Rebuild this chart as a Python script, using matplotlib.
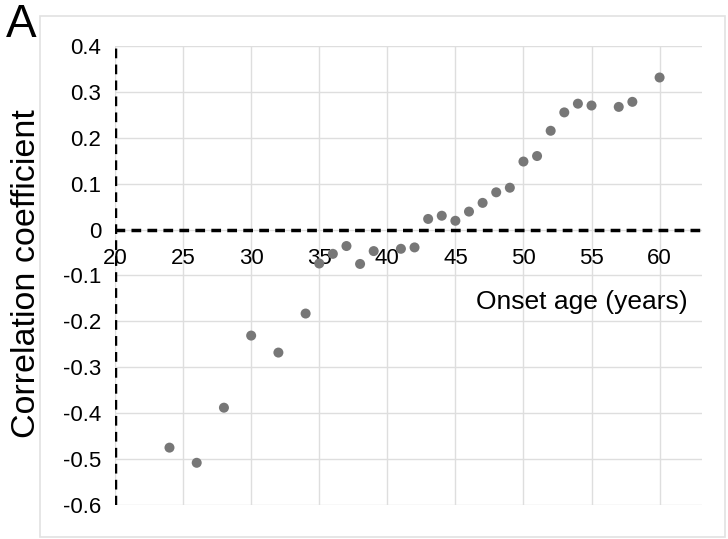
import matplotlib.pyplot as plt
from matplotlib.patches import Rectangle
from matplotlib.transforms import offset_copy

# onset age (years) and correlation coefficient
onset_age = [24, 26, 28, 30, 32, 34, 35, 36, 37, 38, 39, 41, 42,
             43, 44, 45, 46, 47, 48, 49, 50, 51, 52, 53, 54, 55, 57, 58, 60]
corr = [-0.475, -0.508, -0.388, -0.231, -0.268, -0.183, -0.074, -0.053, -0.036,
        -0.075, -0.047, -0.042, -0.039,
        0.023, 0.030, 0.019, 0.039, 0.058, 0.081, 0.091, 0.148, 0.160, 0.215,
        0.255, 0.274, 0.270, 0.267, 0.278, 0.331]

x_ticks = [20, 25, 30, 35, 40, 45, 50, 55, 60]
y_ticks = [0.4, 0.3, 0.2, 0.1, 0, -0.1, -0.2, -0.3, -0.4, -0.5, -0.6]
y_tick_labels = ['0.4', '0.3', '0.2', '0.1', '0', '-0.1', '-0.2', '-0.3', '-0.4', '-0.5', '-0.6']

plt.rcParams['font.family'] = ['Liberation Sans', 'DejaVu Sans']

fig = plt.figure(figsize=(7.28, 5.39), dpi=100)
ax = fig.add_axes([0.158, 0.063, 0.806, 0.852])

# light outer frame around the panel
fig.patches.append(Rectangle((0.055, 0.004), 0.941, 0.966, transform=fig.transFigure,
                             fill=False, edgecolor='#e2e2e2', linewidth=1.2))

ax.set_xlim(20, 63.1)
ax.set_ylim(-0.6, 0.4)
ax.set_xticks(x_ticks)
ax.set_yticks(y_ticks)
ax.set_yticklabels(y_tick_labels, fontsize=16)
ax.tick_params(axis='x', length=0, labelbottom=False)
ax.tick_params(axis='y', length=0, pad=10)
ax.grid(True, color='#dedede', linewidth=1)
ax.set_axisbelow(True)
for s in ax.spines.values():
    s.set_visible(False)

# dashed axes through the origin
ax.axhline(0, color='black', linestyle=(0, (2.8, 1.8)), linewidth=2.5, zorder=2)
ax.axvline(20, color='black', linestyle=(0, (2.8, 1.8)), linewidth=2.5, zorder=2)

# x tick labels sit just under the zero line
trans = offset_copy(ax.transData, fig=fig, x=0, y=-13, units='points')
for xt in x_ticks:
    ax.text(xt, 0, str(xt), transform=trans, ha='center', va='top', fontsize=16, zorder=1)

ax.scatter(onset_age, corr, s=52, color='#777777', edgecolors='none', zorder=3)

ax.text(0.796, 0.442, 'Onset age (years)', transform=ax.transAxes, ha='center', va='center',
        fontsize=19)

fig.text(0.036, 0.492, 'Correlation coefficient', rotation=90, ha='center', va='center',
         fontsize=24.5)
fig.text(0.008, 0.995, 'A', ha='left', va='top', fontsize=33)

fig.savefig('out.png', dpi=100)
